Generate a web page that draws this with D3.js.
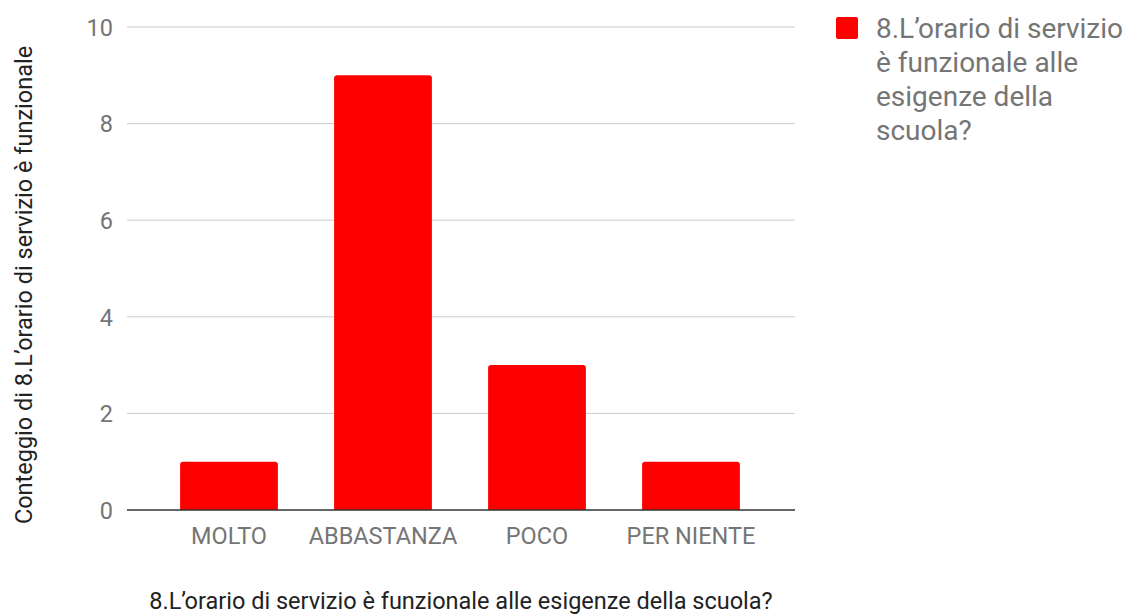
<!DOCTYPE html>
<html><head><meta charset="utf-8">
<script src="https://cdn.jsdelivr.net/npm/d3@7"></script>
<style>body{margin:0;background:#fff}text{font-family:Roboto,sans-serif}</style>
</head><body><svg id="c" width="1128" height="615"></svg>
<script>
const categories = ["MOLTO","ABBASTANZA","POCO","PER NIENTE"];
const values = [1,9,3,1];
const yTicks = [0,2,4,6,8,10];
const seriesName = ["8.L’orario di servizio","è funzionale alle","esigenze della","scuola?"];
const xTitle = "8.L’orario di servizio è funzionale alle esigenze della scuola?";
const yTitle = "Conteggio di 8.L’orario di servizio è funzionale";

const svg = d3.select("#c");
const y = d3.scaleLinear().domain([0,10]).range([510,27]);
const x = d3.scaleBand().domain(categories).range([152,768]).paddingInner(0.365).paddingOuter(0.1825);
const gridX0 = 127, gridX1 = 795;

svg.append("g").selectAll("line").data(yTicks.filter(d=>d>0)).join("line")
  .attr("x1",gridX0).attr("x2",gridX1).attr("y1",d=>y(d)).attr("y2",d=>y(d))
  .attr("stroke","#cccccc").attr("stroke-width",1);

const yAxis = d3.axisLeft(y).tickValues(yTicks).tickSize(0).tickPadding(0).tickFormat(d3.format("d"));
const ga = svg.append("g").attr("transform",`translate(${gridX0-14},0)`).call(yAxis);
ga.select(".domain").remove();
ga.selectAll("text").attr("font-size",23.5).attr("fill","#757575").attr("font-family","Roboto").attr("dy","0.35em");

const r = 3;
svg.append("g").selectAll("path").data(values).join("path")
  .attr("fill","#ff0000")
  .attr("d",(d,i)=>{
    const x0 = x(categories[i]), w = x.bandwidth(), y0 = y(d), yb = y(0);
    return `M${x0},${yb}V${y0+r}Q${x0},${y0} ${x0+r},${y0}H${x0+w-r}Q${x0+w},${y0} ${x0+w},${y0+r}V${yb}Z`;
  });

svg.append("line").attr("x1",gridX0).attr("x2",gridX1).attr("y1",y(0)).attr("y2",y(0))
  .attr("stroke","#333333").attr("stroke-width",1.5);

const xAxis = d3.axisBottom(x).tickSize(0).tickPadding(0);
const gx = svg.append("g").attr("transform",`translate(0,${y(0)})`).call(xAxis);
gx.select(".domain").remove();
gx.selectAll("text").attr("font-size",23.5).attr("fill","#757575").attr("font-family","Roboto").attr("dy",null).attr("y",34);

svg.append("text").attr("x",461).attr("y",609).attr("text-anchor","middle")
  .attr("font-size",23.5).attr("fill","#222222").text(xTitle);
svg.append("text").attr("transform","translate(32,285) rotate(-90)").attr("text-anchor","middle")
  .attr("font-size",23.5).attr("fill","#222222").text(yTitle);

svg.append("rect").attr("x",836).attr("y",17).attr("width",22).attr("height",22).attr("rx",2).attr("fill","#ff0000");
svg.append("g").selectAll("text").data(seriesName).join("text")
  .attr("x",876).attr("y",(d,i)=>38+i*34).attr("font-size",28).attr("fill","#757575").text(d=>d);
</script></body></html>
